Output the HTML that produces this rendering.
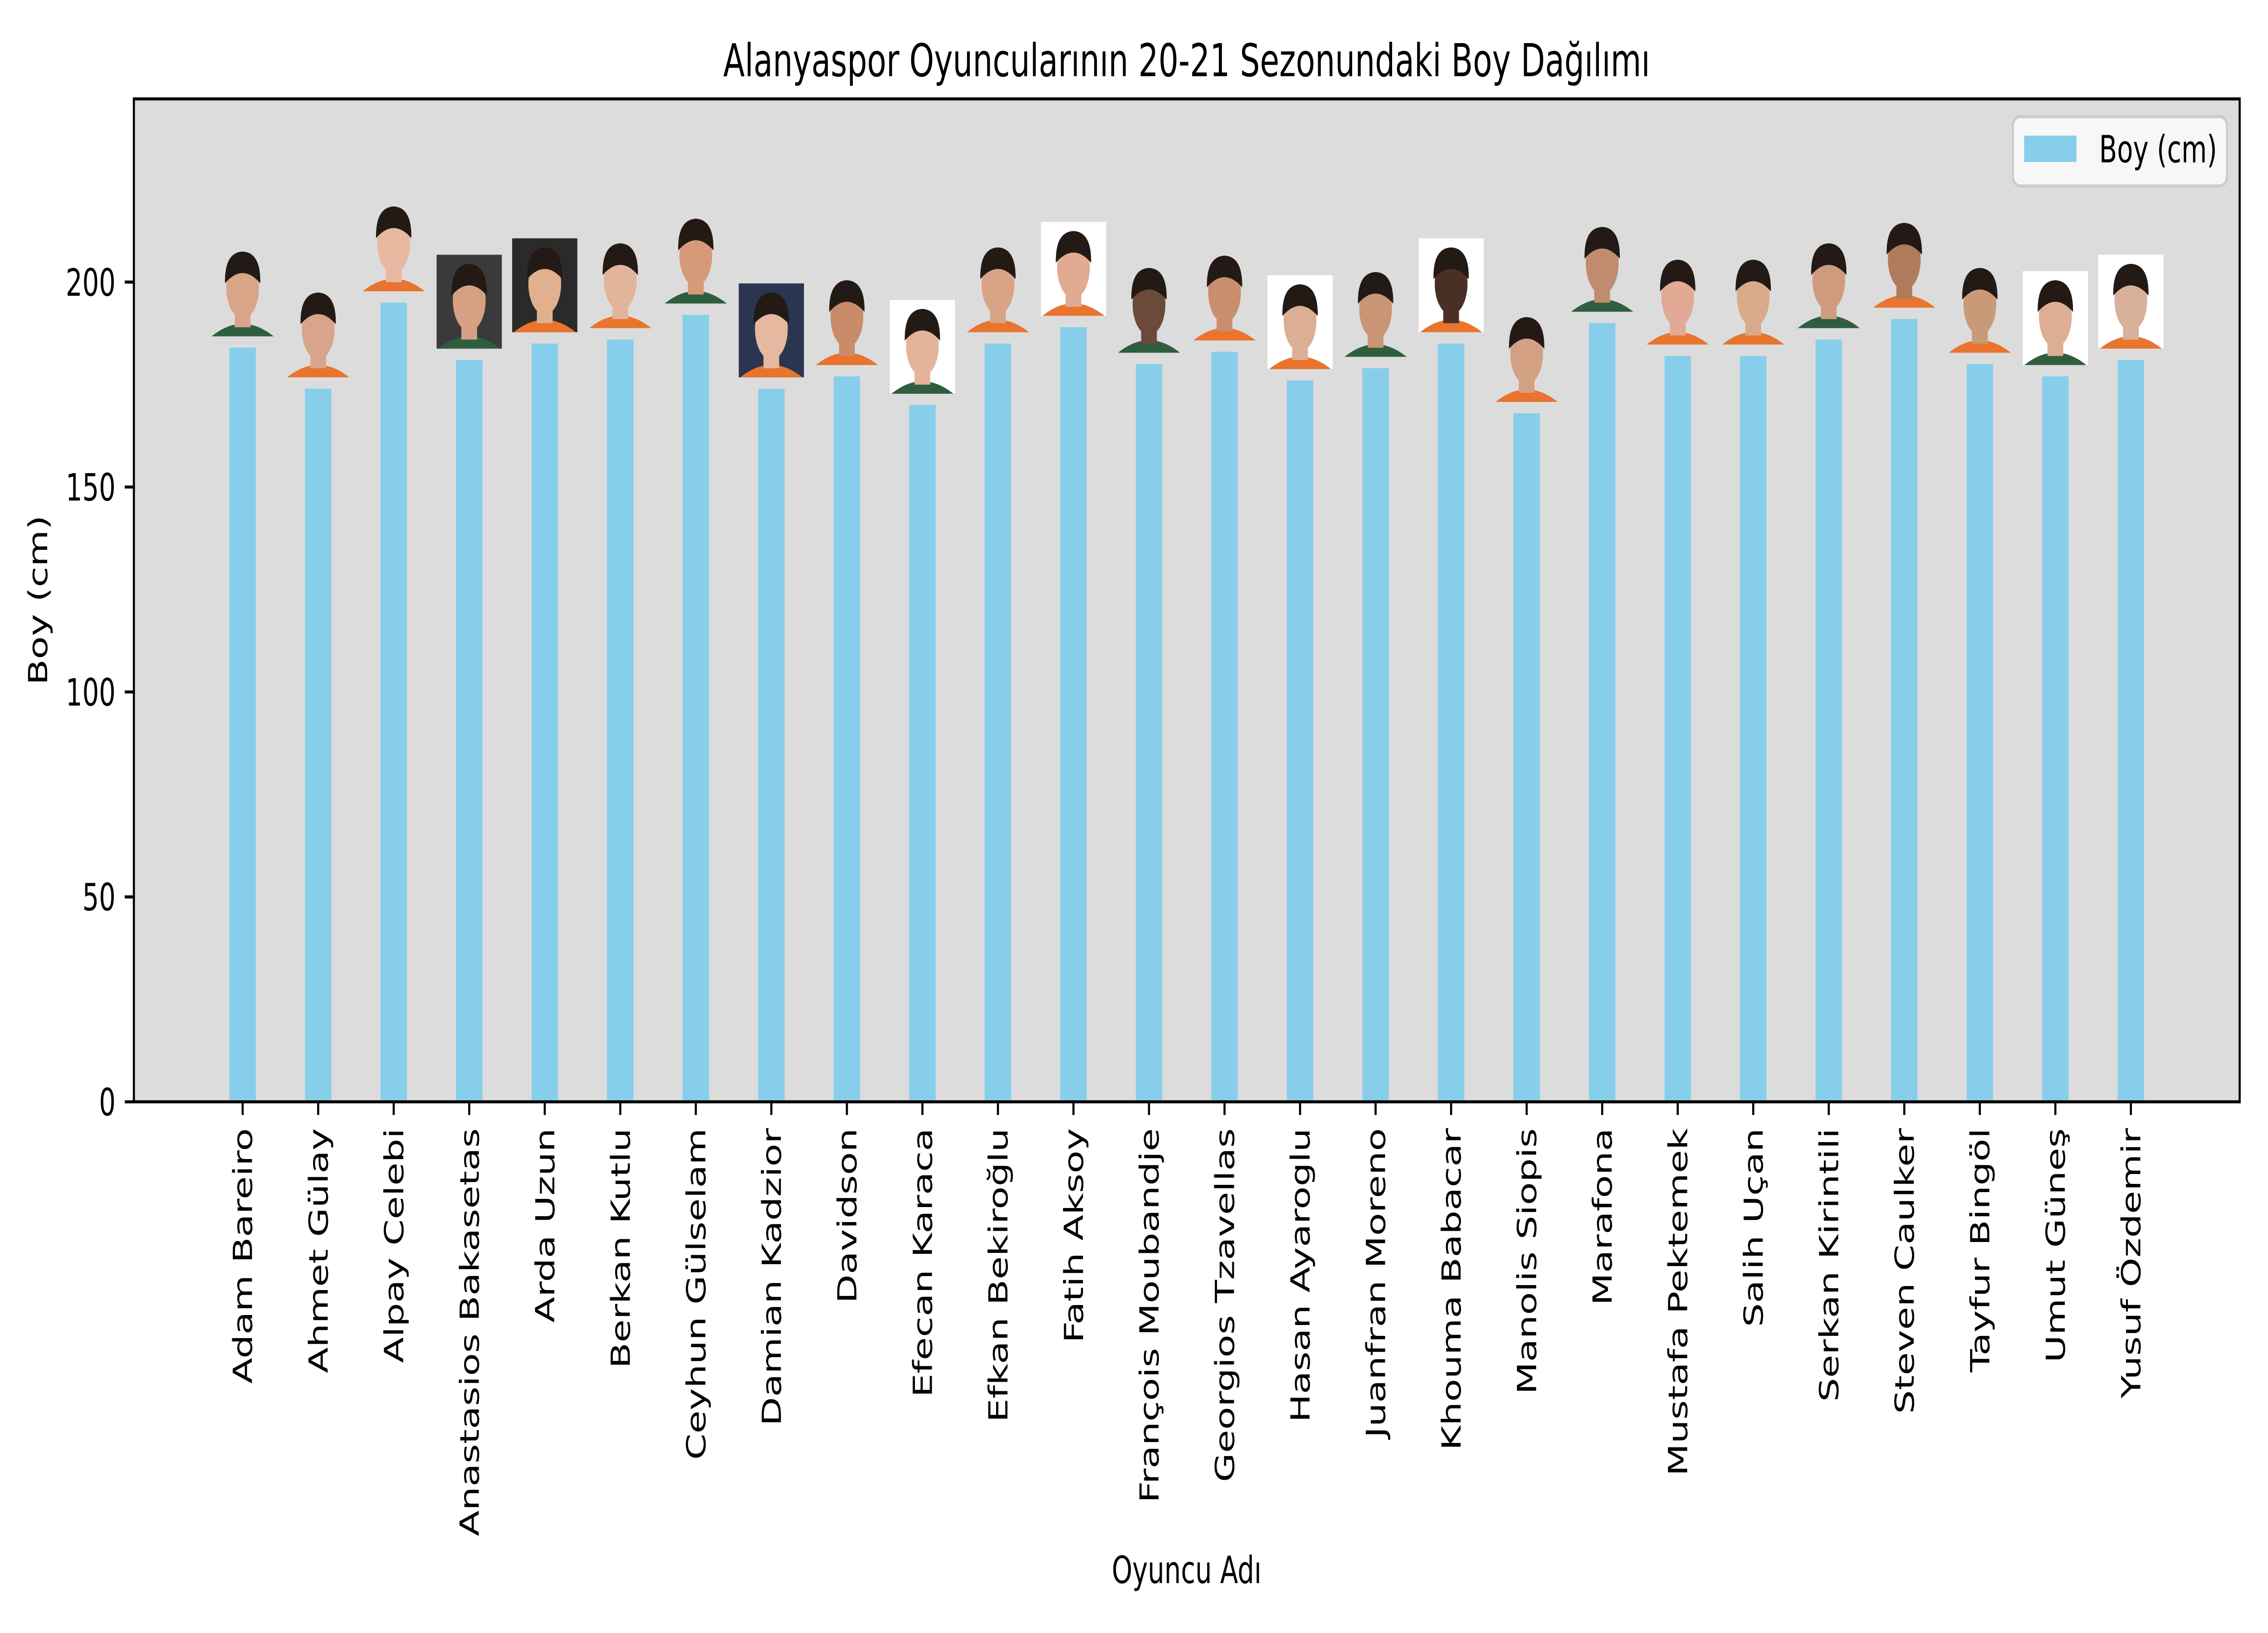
<!DOCTYPE html>
<html><head><meta charset="utf-8">
<style>
html,body{margin:0;padding:0;background:#fff;width:100%;height:100%;overflow:hidden;}
svg{display:block;width:100vw;height:100vh;font-family:"DejaVu Sans","Liberation Sans",sans-serif;}
</style></head>
<body>
<svg id="chart" xmlns="http://www.w3.org/2000/svg" viewBox="0 0 7200 3600" preserveAspectRatio="none" overflow="hidden">
<rect x="0" y="0" width="7200" height="3600" fill="#ffffff"/>
<rect x="425" y="218" width="6685" height="2211" fill="#dcdcdc"/>
<g id="bars"></g>
<g id="photos"></g>
<g id="yaxis"></g>
<g id="xaxis"></g>
<rect x="425" y="218" width="6685" height="2211" fill="none" stroke="#000" stroke-width="6.7"/>
<text x="3767" y="168" font-size="100" text-anchor="middle">Alanyaspor Oyuncularının 20-21 Sezonundaki Boy Dağılımı</text>
<text x="0" y="0" font-size="83" text-anchor="middle" transform="translate(150,1323) rotate(-90)">Boy (cm)</text>
<text x="3767" y="3490" font-size="83" text-anchor="middle">Oyuncu Adı</text>
<g>
<rect x="6390" y="257" width="680" height="153" rx="22" fill="#f7f7f7" stroke="#cccccc" stroke-width="7"/>
<rect x="6426" y="299" width="166" height="58" fill="#87ceeb"/>
<text x="6664" y="358" font-size="83">Boy (cm)</text>
</g>
</svg>
<script>
const players = ["Adam Bareiro","Ahmet Gülay","Alpay Celebi","Anastasios Bakasetas","Arda Uzun","Berkan Kutlu","Ceyhun Gülselam","Damian Kadzior","Davidson","Efecan Karaca","Efkan Bekiroğlu","Fatih Aksoy","François Moubandje","Georgios Tzavellas","Hasan Ayaroglu","Juanfran Moreno","Khouma Babacar","Manolis Siopis","Marafona","Mustafa Pektemek","Salih Uçan","Serkan Kirintili","Steven Caulker","Tayfur Bingöl","Umut Güneş","Yusuf Özdemir"];
const heights = [184,174,195,181,185,186,192,174,177,170,185,189,180,183,176,179,185,168,190,182,182,186,191,180,177,181];
const yTicks = [0,50,100,150,200];
const photoBg = ["none","none","none","#3a3a3a","#2a2a2a","none","none","#2b3550","none","#ffffff","none","#ffffff","none","none","#ffffff","none","#ffffff","none","none","none","none","none","none","none","#ffffff","#ffffff"];
const skin = ["#d9a589","#d8a48a","#e8b8a0","#d7a083","#e0b08f","#e2b49a","#d59a78","#e6b8a0","#c98b6a","#e4b49a","#d9a385","#e0ab90","#6b4a3a","#c98f6c","#dcae93","#c99575","#4a3024","#d3a084","#c08b6e","#e2aa95","#dbaa8b","#cf9b7f","#b07a5d","#c99a78","#dcae93","#d9b09a"];

const X0 = 425, X1 = 7110, Y0 = 2429, Y1 = 218;
const XMIN = -1.44, XMAX = 26.44, YMIN = 0, YMAX = 244.7;
const NS = "http://www.w3.org/2000/svg";
function xs(i){ return X0 + (i - XMIN) / (XMAX - XMIN) * (X1 - X0); }
function ys(v){ return Y0 - (v - YMIN) / (YMAX - YMIN) * (Y0 - Y1); }
function mk(tag, attrs){ const e = document.createElementNS(NS, tag); for (const k in attrs) e.setAttribute(k, attrs[k]); return e; }

const barsG = document.getElementById('bars');
const photosG = document.getElementById('photos');
const xG = document.getElementById('xaxis');
const yG = document.getElementById('yaxis');
const bw = 0.35 * (X1 - X0) / (XMAX - XMIN);

heights.forEach(function(h, i){
  const cx = xs(i);
  const top = ys(h);
  const r = mk('rect', {x: cx - bw/2, y: top, width: bw, height: Y0 - top, fill: '#87ceeb'});
  
  
  barsG.appendChild(r);

  const s = 207, by = top - 25, tx = cx - s/2, ty = by - s;
  const g = mk('g', {});
  
  
  if (photoBg[i] !== 'none') g.appendChild(mk('rect', {x: tx, y: ty, width: s, height: s, fill: photoBg[i]}));
  g.appendChild(mk('path', {d: 'M' + (tx+5) + ' ' + by + ' Q' + cx + ' ' + (by-55) + ' ' + (tx+s-5) + ' ' + by + ' Z', fill: (i % 3 === 0) ? '#2f5e3f' : '#e8742e'}));
  g.appendChild(mk('rect', {x: cx - 25, y: by - 60, width: 50, height: 40, fill: skin[i]}));
  g.appendChild(mk('ellipse', {cx: cx, cy: ty + 100, rx: 52, ry: 68, fill: skin[i]}));
  g.appendChild(mk('path', {d: 'M' + (cx-56) + ' ' + (ty+90) + ' Q' + (cx-58) + ' ' + (ty+22) + ' ' + cx + ' ' + (ty+20) + ' Q' + (cx+58) + ' ' + (ty+22) + ' ' + (cx+56) + ' ' + (ty+90) + ' Q' + cx + ' ' + (ty+45) + ' ' + (cx-56) + ' ' + (ty+90) + ' Z', fill: '#231a15'}));
  photosG.appendChild(g);

  const t = mk('line', {x1: cx, y1: Y0, x2: cx, y2: Y0 + 29, stroke: '#000', 'stroke-width': 6.7});
  
  
  xG.appendChild(t);
  const lb = mk('text', {x: 0, y: 0, 'font-size': 83, 'text-anchor': 'end', transform: 'translate(' + (cx + 30) + ',' + (Y0 + 58) + ') rotate(-90)'});
  lb.textContent = players[i];
  
  
  xG.appendChild(lb);
});

yTicks.forEach(function(v, i){
  const y = ys(v);
  const t = mk('line', {x1: X0 - 29, y1: y, x2: X0, y2: y, stroke: '#000', 'stroke-width': 6.7});
  
  
  yG.appendChild(t);
  const lb = mk('text', {x: X0 - 58, y: y + 30, 'font-size': 83, 'text-anchor': 'end'});
  lb.textContent = String(v);
  
  
  yG.appendChild(lb);
});
</script>
</body></html>
